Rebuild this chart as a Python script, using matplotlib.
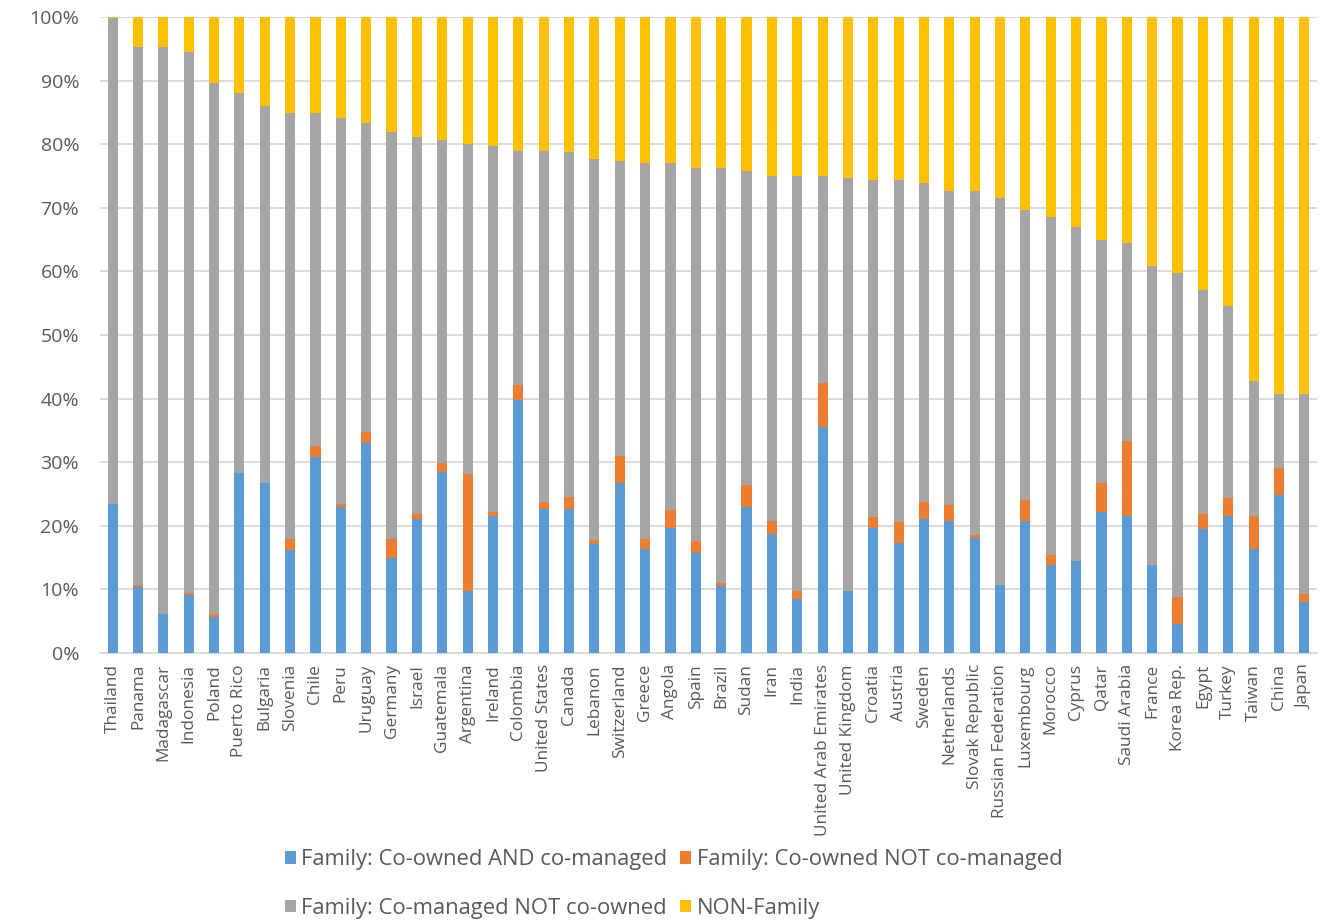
import matplotlib
matplotlib.use("Agg")
import matplotlib.pyplot as plt
import numpy as np
from matplotlib.ticker import PercentFormatter

countries = [
    "Thailand", "Panama", "Madagascar", "Indonesia", "Poland", "Puerto Rico",
    "Bulgaria", "Slovenia", "Chile", "Peru", "Uruguay", "Germany", "Israel",
    "Guatemala", "Argentina", "Ireland", "Colombia", "United States", "Canada",
    "Lebanon", "Switzerland", "Greece", "Angola", "Spain", "Brazil", "Sudan",
    "Iran", "India", "United Arab Emirates", "United Kingdom", "Croatia",
    "Austria", "Sweden", "Netherlands", "Slovak Republic", "Russian Federation",
    "Luxembourg", "Morocco", "Cyprus", "Qatar", "Saudi Arabia", "France",
    "Korea Rep.", "Egypt", "Turkey", "Taiwan", "China", "Japan",
]

# Share of firms (%), per category
co_owned_and_managed = [
    23.4, 10.4, 6.1, 9.1, 5.7, 28.3, 26.7, 16.2, 30.8, 22.9, 33.0, 15.0, 21.1,
    28.5, 9.8, 21.6, 39.8, 22.7, 22.7, 17.2, 26.7, 16.3, 19.7, 15.7, 10.6, 22.9,
    18.7, 8.5, 35.5, 9.8, 19.7, 17.3, 21.1, 20.8, 18.1, 10.7, 20.8, 13.9, 14.4,
    22.2, 21.6, 13.9, 4.6, 19.5, 21.6, 16.3, 24.8, 8.0,
]
co_owned_not_managed = [
    0.0, 0.3, 0.0, 0.3, 0.4, 0.0, 0.0, 1.7, 1.8, 0.5, 1.7, 2.9, 0.8,
    1.4, 18.3, 0.6, 2.4, 1.1, 1.9, 0.5, 4.3, 1.6, 2.8, 1.9, 0.4, 3.5,
    2.1, 1.3, 6.9, 0.0, 1.7, 3.3, 2.7, 2.4, 0.4, 0.0, 3.3, 1.5, 0.0,
    4.5, 11.8, 0.0, 4.2, 2.4, 2.7, 5.3, 4.3, 1.2,
]
co_managed_not_owned = [
    76.4, 84.6, 89.2, 85.1, 83.6, 59.8, 59.3, 67.0, 52.3, 60.7, 48.6, 64.0, 59.2,
    50.7, 51.9, 57.6, 36.8, 55.2, 54.1, 60.0, 46.4, 59.2, 54.6, 58.7, 65.3, 49.4,
    54.2, 65.2, 32.6, 64.9, 53.0, 53.8, 50.1, 49.4, 54.1, 60.8, 45.5, 53.2, 52.6,
    38.2, 31.1, 46.9, 51.0, 35.2, 30.2, 21.1, 11.7, 31.6,
]
non_family = [
    0.2, 4.7, 4.7, 5.5, 10.3, 11.9, 14.0, 15.1, 15.1, 15.9, 16.7, 18.1, 18.9,
    19.4, 20.0, 20.2, 21.0, 21.0, 21.3, 22.3, 22.6, 22.9, 22.9, 23.7, 23.7, 24.2,
    25.0, 25.0, 25.0, 25.3, 25.6, 25.6, 26.1, 27.4, 27.4, 28.5, 30.4, 31.4, 33.0,
    35.1, 35.5, 39.2, 40.2, 42.9, 45.5, 57.3, 59.2, 59.2,
]

series = [
    ("Family: Co-owned AND co-managed", co_owned_and_managed, "#5B9BD5"),
    ("Family: Co-owned NOT co-managed", co_owned_not_managed, "#ED7D31"),
    ("Family: Co-managed NOT co-owned", co_managed_not_owned, "#A5A5A5"),
    ("NON-Family", non_family, "#FFC000"),
]

plt.rcParams["font.family"] = ["Open Sans", "DejaVu Sans"]
text_color = "#595959"
grid_color = "#D9D9D9"

fig = plt.figure(figsize=(13.26, 9.21), dpi=100)
ax = fig.add_axes([0.0754, 0.2910, 0.9178, 0.6905])

x = np.arange(len(countries))
bottom = np.zeros(len(countries))
handles = {}
for label, vals, color in series:
    vals = np.asarray(vals, dtype=float)
    bars = ax.bar(x, vals, width=0.4, bottom=bottom, color=color,
                  label=label, zorder=3)
    handles[label] = bars
    bottom += vals

ax.set_xlim(-0.5, len(countries) - 0.5)
ax.set_ylim(0, 100)
ax.set_yticks(np.arange(0, 101, 10))
ax.yaxis.set_major_formatter(PercentFormatter(decimals=0))
ax.grid(axis="y", color=grid_color, linewidth=1.3, zorder=0)
ax.set_axisbelow(True)

for side in ("top", "right", "left"):
    ax.spines[side].set_visible(False)
ax.spines["bottom"].set_color(grid_color)
ax.spines["bottom"].set_linewidth(1.3)

ax.set_xticks(x)
ax.set_xticklabels(countries, rotation=90, fontsize=12.4, color=text_color)
ax.tick_params(axis="x", length=0, pad=8)
ax.tick_params(axis="y", length=0, pad=15, labelsize=14, labelcolor=text_color)

order = [series[0][0], series[2][0], series[1][0], series[3][0]]
leg = fig.legend(
    [handles[k] for k in order], order,
    loc="center", bbox_to_anchor=(0.508, 0.040), ncol=2, frameon=False,
    fontsize=15.8, handlelength=0.5, handleheight=0.5, handletextpad=0.25,
    columnspacing=0.6, labelspacing=1.25,
)
for t in leg.get_texts():
    t.set_color(text_color)

fig.savefig("out.png", dpi=100)
